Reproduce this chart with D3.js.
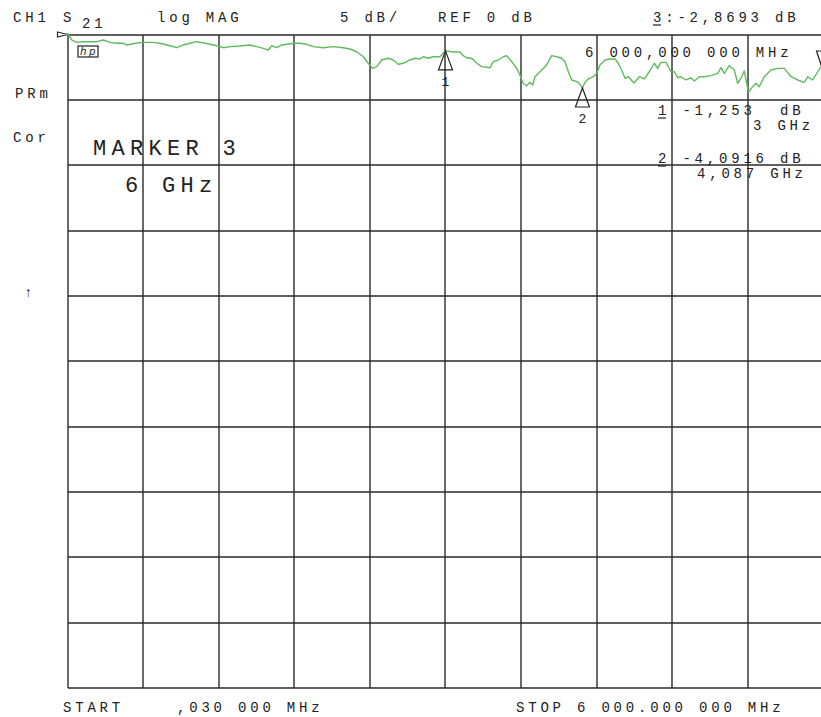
<!DOCTYPE html>
<html>
<head>
<meta charset="utf-8">
<script src="https://cdn.jsdelivr.net/npm/d3@7"></script>
<style>
  html, body { margin: 0; padding: 0; background: #fff; }
  svg text { font-family: "Liberation Mono", "DejaVu Sans Mono", monospace; fill: #222; white-space: pre; }
</style>
</head>
<body>
<svg id="chart" width="821" height="717"></svg>
<script>
// S21 trace, frequency in GHz (start .030 MHz, stop 6 GHz)
var freqGHz = [0.00003, 0.033, 0.073, 0.125, 0.179, 0.232, 0.284, 0.337, 0.390, 0.443,
  0.470, 0.510, 0.552, 0.597, 0.679, 0.734, 0.813, 0.867, 0.917, 0.972,
  1.025, 1.075, 1.131, 1.194, 1.237, 1.290, 1.369, 1.448, 1.502, 1.554,
  1.594, 1.621, 1.660, 1.700, 1.752, 1.806, 1.845, 1.898, 1.951, 2.030,
  2.110, 2.189, 2.242, 2.295, 2.348, 2.387, 2.422, 2.454, 2.494, 2.546,
  2.586, 2.625, 2.665, 2.718, 2.758, 2.798, 2.824, 2.863, 2.903, 2.956,
  3.000, 3.062, 3.115, 3.141, 3.168, 3.208, 3.248, 3.287, 3.353, 3.379,
  3.419, 3.459, 3.486, 3.525, 3.565, 3.591, 3.617, 3.644, 3.671, 3.692,
  3.710, 3.750, 3.790, 3.803, 3.843, 3.883, 3.922, 3.948, 3.975, 4.002,
  4.028, 4.054, 4.087, 4.107, 4.133, 4.173, 4.200, 4.226, 4.266, 4.306,
  4.345, 4.371, 4.398, 4.425, 4.451, 4.496, 4.538, 4.578, 4.617, 4.657,
  4.684, 4.710, 4.750, 4.790, 4.816, 4.843, 4.869, 4.909, 4.948, 4.975,
  5.014, 5.054, 5.107, 5.160, 5.187, 5.213, 5.252, 5.292, 5.319, 5.345,
  5.371, 5.393, 5.406, 5.438, 5.464, 5.490, 5.530, 5.583, 5.637, 5.689,
  5.742, 5.795, 5.848, 5.875, 5.914, 5.954, 5.980, 6.000];

var s21dB = [0.10, -0.42, -0.60, -0.55, -0.55, -0.55, -0.42, -0.60, -0.67, -0.67,
  -0.80, -0.73, -0.65, -0.60, -0.60, -0.67, -0.86, -1.01, -0.80, -0.67,
  -0.55, -0.63, -0.75, -0.88, -1.01, -0.93, -0.88, -0.80, -0.93, -1.06,
  -1.19, -0.86, -1.01, -0.80, -0.73, -0.67, -0.67, -0.75, -0.93, -1.01,
  -0.93, -1.01, -1.11, -1.32, -1.70, -2.20, -2.59, -2.46, -1.95, -1.82,
  -1.95, -2.28, -2.20, -1.95, -1.82, -1.87, -1.70, -1.82, -1.70, -1.70,
  -1.25, -1.34, -1.34, -1.62, -1.78, -1.82, -2.20, -2.46, -2.54, -2.08,
  -1.95, -1.70, -1.62, -2.08, -2.59, -3.10, -3.73, -3.92, -3.66, -3.86,
  -3.23, -2.85, -2.46, -2.33, -1.62, -1.70, -1.82, -2.08, -2.85, -3.48,
  -3.56, -3.66, -4.09, -3.66, -3.40, -3.23, -2.97, -2.33, -1.95, -1.87,
  -1.87, -2.20, -2.72, -3.35, -3.23, -3.71, -3.23, -3.40, -2.85, -2.20,
  -2.59, -2.13, -2.13, -2.85, -2.85, -3.31, -3.23, -3.48, -3.31, -3.56,
  -3.23, -3.23, -3.15, -2.97, -2.54, -2.97, -2.39, -2.72, -3.73, -3.35,
  -2.79, -3.86, -4.38, -3.99, -3.73, -3.99, -3.23, -2.72, -2.59, -2.59,
  -3.23, -3.48, -3.66, -3.23, -3.48, -2.85, -2.46, -2.87];

var markerIds = ['1', '2', '3'];
var markerFreqGHz = [3, 4.087, 6];
var markerDB = [-1.253, -4.0916, -2.8693];

// 10 divisions each way, 5 dB/div, REF 0 dB at the top line
var xGrid = [0.00003, 0.6, 1.2, 1.8, 2.4, 3.0, 3.6, 4.2, 4.8, 5.4, 6.0];
var yGrid = [0, -5, -10, -15, -20, -25, -30, -35, -40, -45, -50];

var plotLeft = 67.5, plotRight = 823.5, plotTop = 34.5, plotBottom = 688;

var svg = d3.select('#chart');

var x = d3.scaleLinear().domain([0.00003, 6]).range([plotLeft, plotRight]);
var y = d3.scaleLinear().domain([-50, 0]).range([plotBottom, plotTop]);

// graticule
var grid = svg.append('g').attr('class', 'grid')
  .attr('stroke', '#2a2a2a').attr('stroke-width', 1.4);

grid.selectAll('line.v').data(xGrid).enter().append('line')
  .attr('class', 'v')
  .attr('x1', function (d) { return Math.round(x(d)); })
  .attr('x2', function (d) { return Math.round(x(d)); })
  .attr('y1', Math.round(y(0))).attr('y2', Math.round(y(-50)));

grid.selectAll('line.h').data(yGrid).enter().append('line')
  .attr('class', 'h')
  .attr('x1', Math.round(x(0.00003))).attr('x2', Math.round(x(6)))
  .attr('y1', function (d) { return Math.round(y(d)); })
  .attr('y2', function (d) { return Math.round(y(d)); });

// reference position pointer
svg.append('path')
  .attr('d', 'M' + (x(0.00003) - 10) + ',' + (y(0) - 2.5) + 'L' + x(0.00003) + ',' + y(0) +
    'L' + (x(0.00003) - 10) + ',' + (y(0) + 2.5) + 'Z')
  .attr('fill', 'none').attr('stroke', '#222').attr('stroke-width', 1.2);

// trace
var trace = freqGHz.map(function (f, i) { return [f, s21dB[i]]; });
var line = d3.line()
  .x(function (d) { return x(d[0]); })
  .y(function (d) { return y(d[1]); });

svg.append('path')
  .datum(trace)
  .attr('d', line)
  .attr('fill', 'none')
  .attr('stroke', '#5fbc5c')
  .attr('stroke-width', 1.4)
  .attr('stroke-linejoin', 'round');

// markers
markerIds.forEach(function (id, i) {
  var mx = x(markerFreqGHz[i]), my = y(markerDB[i]);
  var g = svg.append('g').attr('stroke', '#222').attr('fill', 'none').attr('stroke-width', 1.2);
  if (id === '3') {
    // active marker drawn pointing down onto the trace
    g.append('path').attr('d', 'M' + mx + ',' + my + 'L' + (mx - 7) + ',' + (my - 21) +
      'L' + (mx + 7) + ',' + (my - 21) + 'Z');
  } else {
    g.append('path').attr('d', 'M' + mx + ',' + my + 'L' + (mx - 7) + ',' + (my + 19) +
      'L' + (mx + 7) + ',' + (my + 19) + 'Z');
    svg.append('text').attr('x', mx).attr('y', my + 35)
      .attr('text-anchor', 'middle').style('font-size', '13px').text(id);
  }
});

// hp logo box
var hp = svg.append('g');
hp.append('rect').attr('x', 78).attr('y', 46).attr('width', 20).attr('height', 11)
  .attr('fill', 'none').attr('stroke', '#222').attr('stroke-width', 1.2);
hp.append('text').attr('x', 80).attr('y', 55).style('font-size', '11px')
  .style('font-style', 'italic').text('h');
hp.append('text').attr('x', 89).attr('y', 55).style('font-size', '11px')
  .style('font-style', 'italic').text('p');

// annotation text
function label(t, tx, ty, size, ls) {
  return svg.append('text')
    .attr('x', tx).attr('y', ty)
    .style('font-size', (size || 14) + 'px')
    .style('letter-spacing', (ls === undefined ? 3.8 : ls) + 'px')
    .text(t);
}
function underline(ux, uy) {
  svg.append('line').attr('x1', ux).attr('x2', ux + 8).attr('y1', uy).attr('y2', uy)
    .attr('stroke', '#222').attr('stroke-width', 1.2);
}

label('CH1', 13, 22);
label('S', 63, 22);
label('21', 82, 28);
label('log MAG', 157, 22);
label('5 dB/', 340, 22);
label('REF 0 dB', 438, 22);
label('3:-2,8693 dB', 653, 22);
underline(653, 25);

label('PRm', 15, 98);
label('Cor', 13, 142);
label('\u2191', 24, 297);

label('MARKER 3', 93, 155, 22, 5.3);
label('6', 125, 192, 22, 5.3);
label('GHz', 162, 192, 22, 5.3);

label('6 000,000 000 MHz', 585, 57);
label('1 -1,253  dB', 658, 115);
underline(658, 118);
label('3 GHz', 753, 130);
label('2 -4,0916 dB', 658, 163);
underline(658, 166);
label('4,087 GHz', 697, 178);

label('START', 63, 712);
label(',030 000 MHz', 177, 712);
label('STOP 6 000.000 000 MHz', 516, 712);
</script>
</body>
</html>
